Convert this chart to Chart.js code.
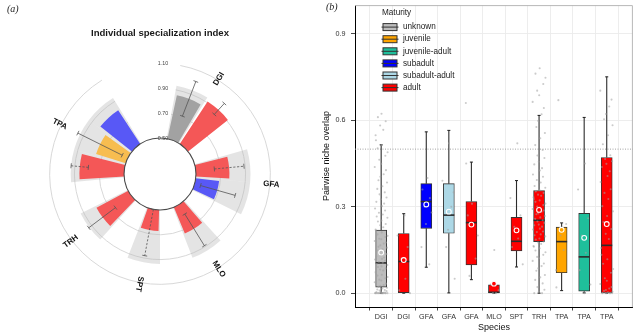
<!DOCTYPE html>
<html>
<head>
<meta charset="utf-8">
<script src="https://cdn.jsdelivr.net/npm/chart.js@4.4.0/dist/chart.umd.min.js"></script>
<style>
  body { margin: 0; background: #fff; }
  #wrap { position: relative; width: 638px; height: 336px; background: #fff; }
  canvas { position: absolute; top: 0; }
  .tag { position: absolute; font: italic 10px "Liberation Serif", serif; color: #222; }
</style>
</head>
<body>
<div id="wrap">
  <canvas id="isi" width="320" height="336" style="left:0"></canvas>
  <canvas id="overlap" width="318" height="336" style="left:320px"></canvas>
  <div class="tag" style="left:7px;top:3px">(a)</div>
  <div class="tag" style="left:326px;top:1px">(b)</div>
</div>
<script>
// ---------- panel (a): individual specialization index (circular bars) ----------
const slots = ['', 'DGI', 'DGI', '', 'GFA', 'GFA', '', 'MLO', '', 'SPT', '', 'TRH', '', 'TPA', 'TPA', 'TPA', ''];
const slotMaturity = [null, 'unknown', 'adult', null, 'adult', 'subadult', null, 'adult', null, 'adult', null, 'adult', null, 'adult', 'juvenile', 'subadult', null];
const isiMean = [null, 0.86, 0.91, null, 0.77, 0.69, null, 0.73, null, 0.67, null, 0.79, null, 0.86, 0.75, 0.825, null];
const isiLow = [null, 0.71, 0.86, null, 0.65, 0.55, null, 0.59, null, 0.50, null, 0.66, null, 0.79, 0.55, null, null];
const isiHigh = [null, 1.01, 0.98, null, 0.89, 0.84, null, 0.89, null, 0.88, null, 0.93, null, 0.93, 0.95, null, null];
const isiDashed = [false, false, false, false, true, false, false, false, false, true, false, false, false, true, false, false, false];
const isiBackground = [null, 0.935, null, null, 0.94, 0.94, null, 0.935, null, 0.935, null, 0.925, null, 0.93, 0.93, 0.93, null];
const ringTicks = [0.5, 0.7, 0.9, 1.1];
const isiColors = { unknown: '#a2a2a2', juvenile: '#f7bd50', subadult: '#5858f6', adult: '#f45757' };

// ---------- panel (b): pairwise niche overlap (boxplots) ----------
const species = ['DGI', 'DGI', 'GFA', 'GFA', 'GFA', 'MLO', 'SPT', 'TRH', 'TPA', 'TPA', 'TPA'];
const boxMaturity = ['unknown', 'adult', 'subadult', 'subadult-adult', 'adult', 'adult', 'adult', 'adult', 'juvenile', 'juvenile-adult', 'adult'];
const whiskerLow = [0, 0, 0.09, 0.001, 0.047, 0, 0.091, 0, 0.009, 0.001, 0];
const q1 = [0.021, 0.002, 0.225, 0.208, 0.098, 0, 0.147, 0.179, 0.071, 0.007, 0];
const median = [0.105, 0.11, 0.318, 0.271, 0.245, 0.003, 0.18, 0.253, 0.179, 0.126, 0.166];
const q3 = [0.219, 0.207, 0.38, 0.38, 0.318, 0.029, 0.263, 0.356, 0.229, 0.277, 0.471];
const whiskerHigh = [0.515, 0.276, 0.56, 0.565, 0.455, 0.03, 0.391, 0.617, 0.244, 0.61, 0.751];
const meanOverlap = [0.141, 0.115, 0.308, 0.283, 0.238, 0.033, 0.218, 0.289, 0.22, 0.192, 0.24];
const maturityLevels = ['unknown', 'juvenile', 'juvenile-adult', 'subadult', 'subadult-adult', 'adult'];
const maturityColors = ['#bdbdbd', '#ffa500', '#1fbf9b', '#0000ff', '#add8e6', '#ff0000'];
const yTicks = [0, 0.3, 0.6, 0.9];
const overlapThreshold = 0.5;
const pairOverlap = [
  [0, 0, 0, 0, 0, 0, 0, 0, 0, 0, 0, 0, 0, 0.002, 0.004, 0.005, 0.007, 0.009, 0.011, 0.013, 0.016, 0.019, 0.022, 0.026, 0.028, 0.033, 0.038, 0.044, 0.047, 0.052, 0.056, 0.061, 0.064, 0.069, 0.073, 0.079, 0.082, 0.086, 0.091, 0.093, 0.098, 0.101, 0.106, 0.109, 0.113, 0.117, 0.119, 0.124, 0.128, 0.133, 0.136, 0.139, 0.144, 0.148, 0.152, 0.158, 0.161, 0.166, 0.172, 0.176, 0.181, 0.187, 0.189, 0.195, 0.199, 0.204, 0.211, 0.217, 0.221, 0.229, 0.236, 0.24, 0.249, 0.252, 0.262, 0.266, 0.273, 0.279, 0.287, 0.294, 0.302, 0.311, 0.317, 0.326, 0.332, 0.343, 0.35, 0.362, 0.371, 0.384, 0.392, 0.404, 0.413, 0.427, 0.438, 0.449, 0.463, 0.477, 0.489, 0.503, 0.514, 0.531, 0.548, 0.567, 0.582, 0.597, 0.611, 0.623],
  [0, 0.01, 0.05, 0.12, 0.16, 0.2, 0.27],
  [0.1, 0.16, 0.24, 0.28, 0.3, 0.33, 0.36, 0.4],
  [0.05, 0.16, 0.22, 0.3, 0.35, 0.39, 0.52],
  [0.06, 0.12, 0.2, 0.27, 0.31, 0.45, 0.66],
  [0, 0, 0.01, 0.03, 0.15],
  [0.1, 0.16, 0.19, 0.23, 0.27, 0.33, 0.52],
  [0, 0, 0.004, 0.012, 0.021, 0.034, 0.046, 0.055, 0.063, 0.078, 0.086, 0.094, 0.103, 0.112, 0.121, 0.126, 0.133, 0.142, 0.148, 0.156, 0.161, 0.164, 0.171, 0.176, 0.179, 0.186, 0.19, 0.197, 0.201, 0.204, 0.212, 0.214, 0.221, 0.224, 0.231, 0.236, 0.238, 0.244, 0.249, 0.253, 0.258, 0.263, 0.268, 0.274, 0.277, 0.283, 0.287, 0.292, 0.297, 0.301, 0.306, 0.311, 0.317, 0.322, 0.327, 0.333, 0.338, 0.342, 0.348, 0.353, 0.358, 0.366, 0.372, 0.384, 0.393, 0.404, 0.412, 0.426, 0.434, 0.447, 0.456, 0.469, 0.478, 0.497, 0.514, 0.538, 0.556, 0.577, 0.598, 0.621, 0.643, 0.664, 0.687, 0.703, 0.726, 0.748, 0.762, 0.781],
  [0.02, 0.08, 0.15, 0.2, 0.24, 0.67],
  [0, 0.03, 0.08, 0.14, 0.2, 0.26, 0.36, 0.45],
  [0, 0, 0, 0, 0, 0, 0, 0.003, 0.005, 0.008, 0.011, 0.016, 0.021, 0.032, 0.043, 0.052, 0.071, 0.084, 0.102, 0.118, 0.133, 0.157, 0.188, 0.206, 0.223, 0.247, 0.268, 0.284, 0.302, 0.327, 0.348, 0.361, 0.386, 0.407, 0.423, 0.438, 0.449, 0.458, 0.466, 0.479, 0.517, 0.548, 0.583, 0.604, 0.622, 0.648, 0.672, 0.703]
];
// fixed horizontal spread pattern for the jittered pairs
const jitterPattern = [-0.82, 0.31, -0.15, 0.67, -0.48, 0.05, 0.92, -0.66, 0.24, -0.33, 0.58, -0.9, 0.12, 0.44, -0.71, -0.05, 0.79, -0.24, 0.53, -0.57, 0.18, 0.86, -0.4, -0.12, 0.37, 0.71, -0.95, 0.02, -0.28, 0.62, 0.95, -0.53, 0.09, -0.77];

Chart.defaults.font.family = '"Liberation Sans", Arial, sans-serif';

// canvas angle of the centre of slot k (slot k may be fractional)
function slotAngle(r, k) {
  return r.getIndexAngle(0) + (k + 0.5) * (2 * Math.PI / slots.length) - Math.PI / 2;
}

const polarDecor = {
  id: 'polarDecor',
  afterDatasetsUpdate(chart) {
    const r = chart.scales.r;
    const inner = r.getDistanceFromCenterForValue(ringTicks[0]);
    chart.data.datasets.forEach((ds, d) => {
      chart.getDatasetMeta(d).data.forEach(arc => {
        const mid = (arc.startAngle + arc.endAngle) / 2;
        const half = (arc.endAngle - arc.startAngle) * ds.slotFill / 2;
        arc.startAngle = mid - half;
        arc.endAngle = mid + half;
        arc.innerRadius = inner;
        if (!(arc.outerRadius > inner)) arc.outerRadius = -1;
      });
    });
  },
  beforeDatasetsDraw(chart) {
    const {ctx} = chart;
    const r = chart.scales.r;
    const used = slots.map((s, i) => s ? i : -1).filter(i => i >= 0);
    const a0 = slotAngle(r, used[0] - 0.5);
    const a1 = slotAngle(r, used[used.length - 1] + 0.5);
    ctx.save();
    ctx.strokeStyle = '#d4d4d4';
    ctx.lineWidth = 0.9;
    ringTicks.slice(1).forEach(v => {
      ctx.beginPath();
      ctx.arc(r.xCenter, r.yCenter, r.getDistanceFromCenterForValue(v), a0, a1);
      ctx.stroke();
    });
    ctx.restore();
  },
  afterDatasetsDraw(chart) {
    const {ctx} = chart;
    const r = chart.scales.r;
    const xc = r.xCenter, yc = r.yCenter;
    ctx.save();
    // inner baseline circle
    ctx.strokeStyle = '#4a4a4a';
    ctx.lineWidth = 1.1;
    ctx.beginPath();
    ctx.arc(xc, yc, r.getDistanceFromCenterForValue(ringTicks[0]), 0, 2 * Math.PI);
    ctx.stroke();

    // error bars
    ctx.strokeStyle = '#555';
    ctx.lineWidth = 0.8;
    slots.forEach((s, k) => {
      if (isiLow[k] == null) return;
      const a = slotAngle(r, k);
      const c = Math.cos(a), sn = Math.sin(a);
      const d0 = r.getDistanceFromCenterForValue(isiLow[k]);
      const d1 = r.getDistanceFromCenterForValue(isiHigh[k]);
      ctx.setLineDash(isiDashed[k] ? [2.2, 1.6] : []);
      ctx.beginPath();
      ctx.moveTo(xc + c * d0, yc + sn * d0);
      ctx.lineTo(xc + c * d1, yc + sn * d1);
      ctx.stroke();
      ctx.setLineDash([]);
      [d0, d1].forEach(d => {
        ctx.beginPath();
        ctx.moveTo(xc + c * d - sn * 2.5, yc + sn * d + c * 2.5);
        ctx.lineTo(xc + c * d + sn * 2.5, yc + sn * d - c * 2.5);
        ctx.stroke();
      });
    });

    // radial value labels in the gap
    ctx.fillStyle = '#444';
    ctx.font = '5.3px "Liberation Sans"';
    ctx.textAlign = 'center';
    ctx.textBaseline = 'middle';
    ringTicks.forEach(v => {
      ctx.fillText(v.toFixed(2), xc + 3, yc - r.getDistanceFromCenterForValue(v));
    });

    // species labels, oriented along the radius
    ctx.fillStyle = '#111';
    ctx.font = 'bold 8px "Liberation Sans"';
    const names = [...new Set(slots.filter(s => s))];
    names.forEach(name => {
      const idx = slots.map((s, i) => s === name ? i : -1).filter(i => i >= 0);
      const k = (idx[0] + idx[idx.length - 1]) / 2;
      const a = slotAngle(r, k);
      const d = r.getDistanceFromCenterForValue(ringTicks[ringTicks.length - 1]) + 1.5;
      let rot = a;
      const deg = (a + Math.PI / 2) * 180 / Math.PI % 360;
      if (deg > 200) rot = a + Math.PI;
      ctx.save();
      ctx.translate(xc + Math.cos(a) * d, yc + Math.sin(a) * d);
      ctx.rotate(rot);
      ctx.fillText(name, 0, 0);
      ctx.restore();
    });
    ctx.restore();
  }
};

new Chart(document.getElementById('isi'), {
  type: 'polarArea',
  data: {
    labels: slots,
    datasets: [
      {
        label: 'Individual specialization',
        data: isiMean,
        backgroundColor: slotMaturity.map(m => m ? isiColors[m] : 'rgba(0,0,0,0)'),
        borderWidth: 0,
        slotFill: 0.86
      },
      {
        label: 'Range',
        data: isiBackground,
        backgroundColor: 'rgba(185,185,185,0.38)',
        borderWidth: 0,
        slotFill: 1
      }
    ]
  },
  options: {
    responsive: false,
    animation: false,
    events: [],
    layout: { padding: { left: 35, right: 35, top: 0, bottom: 37 } },
    scales: {
      r: {
        min: 0.21,
        max: 1.21,
        startAngle: -180 / slots.length,
        grid: { display: false },
        angleLines: { display: false },
        pointLabels: { display: false },
        ticks: { display: false }
      }
    },
    plugins: {
      legend: { display: false },
      tooltip: { enabled: false },
      title: {
        display: true,
        text: 'Individual specialization index',
        color: '#1a1a1a',
        font: { size: 9.6, weight: 'bold' },
        padding: { top: 27.5, bottom: 10.1 }
      }
    }
  },
  plugins: [polarDecor]
});

// ---------- panel (b) ----------
const colorOf = m => maturityColors[maturityLevels.indexOf(m)];
const boxColors = boxMaturity.map(colorOf);

const jitterPoints = [];
let j = 0;
pairOverlap.forEach((vals, i) => {
  vals.forEach(v => {
    jitterPoints.push({ x: i + jitterPattern[j % jitterPattern.length] * 0.3, y: v });
    j++;
  });
});

const boxDecor = {
  id: 'boxDecor',
  beforeDatasetsDraw(chart) {
    const {ctx, chartArea: a, scales: {x, y}} = chart;
    ctx.save();
    // panel border (top / right)
    ctx.strokeStyle = '#b8b8b8';
    ctx.lineWidth = 1;
    ctx.beginPath();
    ctx.moveTo(a.left, a.top + 0.5);
    ctx.lineTo(a.right - 0.5, a.top + 0.5);
    ctx.lineTo(a.right - 0.5, a.bottom);
    ctx.stroke();
    // reference line
    ctx.strokeStyle = '#9a9a9a';
    ctx.lineWidth = 0.9;
    ctx.setLineDash([1, 1.5]);
    const yr = y.getPixelForValue(overlapThreshold);
    ctx.beginPath();
    ctx.moveTo(a.left, yr);
    ctx.lineTo(a.right, yr);
    ctx.stroke();
    ctx.setLineDash([]);
    // whiskers
    ctx.strokeStyle = '#2b2b2b';
    ctx.lineWidth = 1.1;
    species.forEach((s, i) => {
      const px = x.getPixelForValue(i);
      [[whiskerLow[i], q1[i]], [q3[i], whiskerHigh[i]]].forEach(([lo, hi]) => {
        ctx.beginPath();
        ctx.moveTo(px, y.getPixelForValue(lo));
        ctx.lineTo(px, y.getPixelForValue(hi));
        ctx.stroke();
      });
      [whiskerLow[i], whiskerHigh[i]].forEach(v => {
        const py = y.getPixelForValue(v);
        ctx.beginPath();
        ctx.moveTo(px - 1.5, py);
        ctx.lineTo(px + 1.5, py);
        ctx.stroke();
      });
    });
    ctx.restore();
  },
  afterDatasetDraw(chart, args) {
    if (chart.data.datasets[args.index].type !== 'bar') return;
    const {ctx, scales: {y}} = chart;
    ctx.save();
    ctx.strokeStyle = '#2b2b2b';
    ctx.lineWidth = 1.6;
    args.meta.data.forEach((bar, i) => {
      const py = y.getPixelForValue(median[i]);
      ctx.beginPath();
      ctx.moveTo(bar.x - bar.width / 2, py);
      ctx.lineTo(bar.x + bar.width / 2, py);
      ctx.stroke();
    });
    ctx.restore();
  },
  afterDraw(chart) {
    const {ctx, chartArea: a} = chart;
    const x0 = a.left + 27, y0 = a.top + 8;
    ctx.save();
    ctx.fillStyle = '#222';
    ctx.font = '8.2px "Liberation Sans"';
    ctx.textBaseline = 'middle';
    ctx.fillText('Maturity', x0, y0);
    maturityLevels.forEach((m, i) => {
      const yy = y0 + 14 + i * 12.1;
      ctx.fillStyle = maturityColors[i];
      ctx.fillRect(x0 + 1, yy - 3.5, 14, 7);
      ctx.strokeStyle = '#333';
      ctx.lineWidth = 1;
      ctx.strokeRect(x0 + 1, yy - 3.5, 14, 7);
      ctx.beginPath();
      ctx.moveTo(x0 - 0.5, yy);
      ctx.lineTo(x0 + 16.5, yy);
      ctx.stroke();
      ctx.fillStyle = '#222';
      ctx.fillText(m, x0 + 21, yy);
    });
    ctx.restore();
  }
};

new Chart(document.getElementById('overlap'), {
  type: 'bar',
  data: {
    datasets: [
      {
        type: 'scatter',
        label: 'Mean',
        data: meanOverlap.map((v, i) => ({ x: i, y: v })),
        pointRadius: 2.4,
        pointBackgroundColor: boxColors,
        pointBorderColor: '#ffffff',
        pointBorderWidth: 1.1
      },
      {
        type: 'scatter',
        label: 'Pairs',
        data: jitterPoints,
        pointRadius: 1.05,
        pointBackgroundColor: 'rgba(160,160,160,0.55)',
        pointBorderWidth: 0
      },
      {
        type: 'bar',
        label: 'IQR',
        data: q1.map((v, i) => ({ x: i, y: [v, q3[i]] })),
        backgroundColor: boxColors,
        borderColor: '#333',
        borderWidth: 0.9,
        borderSkipped: false,
        barThickness: 11
      }
    ]
  },
  options: {
    responsive: false,
    animation: false,
    events: [],
    layout: { padding: { left: 0, right: 3, top: 3, bottom: 0 } },
    scales: {
      x: {
        type: 'linear',
        min: -0.6,
        max: 10.6,
        afterBuildTicks: s => { s.ticks = species.map((_, i) => ({ value: i })); },
        afterFit: s => { s.height = 29; s.paddingLeft = 0; s.paddingRight = 0; },
        ticks: {
          autoSkip: false,
          maxRotation: 0,
          padding: 2,
          color: '#333',
          font: { size: 7.2 },
          callback: v => species[v] ?? ''
        },
        grid: { color: '#ebebeb', lineWidth: 0.9, tickLength: 3.5, tickColor: '#333', tickWidth: 0.9 },
        border: { display: true, color: '#000', width: 1 },
        title: { display: true, text: 'Species', color: '#111', font: { size: 9 }, padding: { top: 0, bottom: 3 } }
      },
      y: {
        min: -0.048,
        max: 1.0,
        afterBuildTicks: s => { s.ticks = yTicks.map(v => ({ value: v })); },
        afterFit: s => { s.width = 35; s.paddingTop = 0; s.paddingBottom = 0; },
        ticks: { padding: 5.5, color: '#333', font: { size: 7.2 }, callback: v => v.toFixed(1) },
        grid: { color: '#ebebeb', lineWidth: 0.9, tickLength: 4, tickColor: '#333', tickWidth: 0.9 },
        border: { display: true, color: '#000', width: 1 },
        title: { display: true, text: 'Pairwise niche overlap', color: '#111', font: { size: 9 }, padding: { top: 1.5, bottom: 0 } }
      }
    },
    plugins: {
      legend: { display: false },
      tooltip: { enabled: false }
    }
  },
  plugins: [boxDecor]
});
</script>
</body>
</html>
